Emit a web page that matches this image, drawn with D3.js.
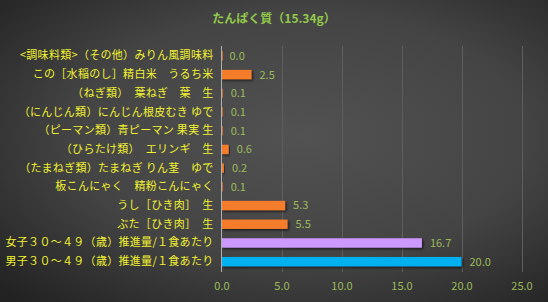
<!DOCTYPE html>
<html><head><meta charset="utf-8">
<script src="https://cdn.jsdelivr.net/npm/d3@7"></script>
<style>html,body{margin:0;padding:0;background:#333;}svg{display:block;}</style>
</head><body>
<svg id="c" width="548" height="302"></svg>
<script>
const categories = [
  "<調味料類>（その他）みりん風調味料",
  "この［水稲のし］精白米　うるち米",
  "（ねぎ類）　葉ねぎ　葉　生",
  "（にんじん類）にんじん根皮むき ゆで",
  "（ピーマン類）青ピーマン 果実 生",
  "（ひらたけ類）　エリンギ　生",
  "（たまねぎ類）たまねぎ りん茎　ゆで",
  "板こんにゃく　精粉こんにゃく",
  "うし［ひき肉］　生",
  "ぶた［ひき肉］　生",
  "女子３０～４９（歳）推進量/１食あたり",
  "男子３０～４９（歳）推進量/１食あたり"
];
const values = [0.0, 2.5, 0.1, 0.1, 0.1, 0.6, 0.2, 0.1, 5.3, 5.5, 16.7, 20.0];
const barColors = ["#f47b2a","#f47b2a","#f47b2a","#f47b2a","#f47b2a","#f47b2a","#f47b2a","#f47b2a","#f47b2a","#f47b2a","#cc99ff","#00b0f0"];
const xTicks = [0, 5, 10, 15, 20, 25];
const title = "たんぱく質（15.34g）";

const W = 548, H = 302;
const svg = d3.select("#c");
const defs = svg.append("defs");
const rg = defs.append("radialGradient").attr("id","bg")
  .attr("cx","55%").attr("cy","45%").attr("r","75%");
rg.append("stop").attr("offset","0%").attr("stop-color","#525252");
rg.append("stop").attr("offset","55%").attr("stop-color","#444");
rg.append("stop").attr("offset","100%").attr("stop-color","#222");
const sh = defs.append("filter").attr("id","sh").attr("x","-5%").attr("y","-30%").attr("width","115%").attr("height","180%");
sh.append("feDropShadow").attr("dx",1.5).attr("dy",1.5).attr("stdDeviation",1).attr("flood-color","#000").attr("flood-opacity",0.6);

svg.append("rect").attr("width",W).attr("height",H).attr("fill","url(#bg)");

const font = "'Noto Sans CJK JP', 'Noto Sans', sans-serif";
const x = d3.scaleLinear().domain([0,25]).range([221.5, 521.5]);
const y = d3.scaleBand().domain(categories).range([46.5, 271]).paddingInner(0.5).paddingOuter(0.25);

// title
svg.append("text").attr("x", 274).attr("y", 23).attr("text-anchor","middle")
  .attr("fill","#92c84a").attr("font-family",font).attr("font-size",12).attr("font-weight","bold")
  .text(title);

// grid
svg.append("g").selectAll("line").data(xTicks.filter(d=>d>0)).join("line")
  .attr("x1",d=>Math.round(x(d))+0.5).attr("x2",d=>Math.round(x(d))+0.5)
  .attr("y1",46).attr("y2",272).attr("stroke","#5e5e5e").attr("stroke-width",1);

// bars
svg.append("g").selectAll("rect").data(values).join("rect")
  .attr("x", x(0)).attr("y",(d,i)=>y(categories[i]))
  .attr("width", d=>Math.max(x(d)-x(0), 1.2)).attr("height", y.bandwidth())
  .attr("fill",(d,i)=>barColors[i]).attr("filter","url(#sh)");

// axis line
svg.append("line").attr("x1",x(0)).attr("x2",x(0)).attr("y1",46).attr("y2",272)
  .attr("stroke","#b0b0b0").attr("stroke-width",1);

// value labels
svg.append("g").selectAll("text").data(values).join("text")
  .attr("x", d=>x(d)+8).attr("y",(d,i)=>y(categories[i])+y.bandwidth()/2)
  .attr("dy","0.36em").attr("fill","#9bbb59").attr("font-family",font).attr("font-size",11)
  .text(d=>d.toFixed(1));

// category labels
const ax = svg.append("g").attr("transform",`translate(${x(0)},0)`)
  .call(d3.axisLeft(y).tickSize(0).tickPadding(8));
ax.select(".domain").remove();
ax.selectAll("text").attr("fill","#f2f230").attr("font-family",font).attr("font-size",11)
  .attr("letter-spacing","0.3px");

// x axis
const xa = svg.append("g").attr("transform","translate(0,274)")
  .call(d3.axisBottom(x).tickValues(xTicks).tickSize(0).tickPadding(8).tickFormat(d=>d.toFixed(1)));
xa.select(".domain").remove();
xa.selectAll("text").attr("fill","#9bbb59").attr("font-family",font).attr("font-size",11);
</script>
</body></html>
